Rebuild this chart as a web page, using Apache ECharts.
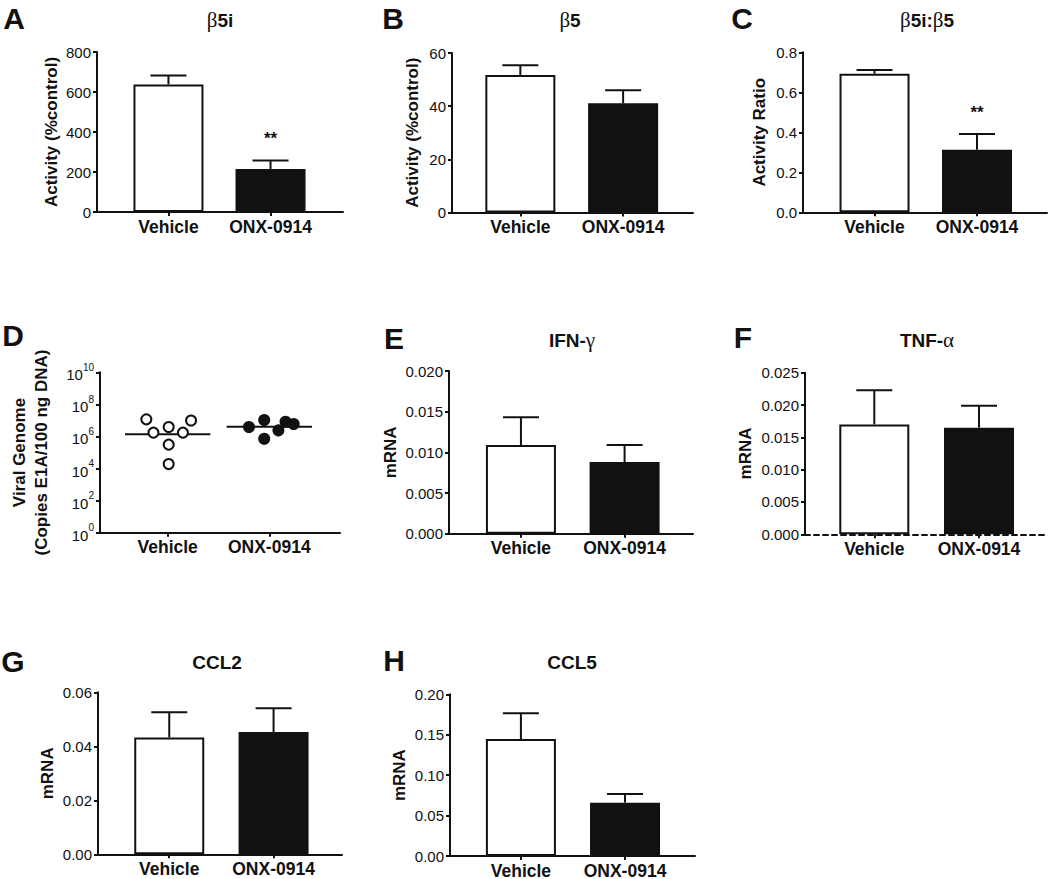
<!DOCTYPE html>
<html><head><meta charset="utf-8">
<script src="https://cdn.jsdelivr.net/npm/echarts@6/dist/echarts.min.js"></script>
<style>html,body{margin:0;padding:0;background:#fff}#c{width:1050px;height:879px}</style>
</head><body><div id="c"></div>
<script>
// ---------------- data ----------------
const categories = ['Vehicle', 'ONX-0914'];

const aMean = [638, 215];      const aSem = [45, 43];        const aSig = ['', '**'];
const bMean = [51.7, 41.1];    const bSem = [3.7, 4.9];      const bSig = ['', ''];
const cMean = [0.693, 0.313];  const cSem = [0.018, 0.078];  const cSig = ['', '**'];
const eMean = [0.0109, 0.0088]; const eSem = [0.0034, 0.0021]; const eSig = ['', ''];
const fMean = [0.0170, 0.0165]; const fSem = [0.0053, 0.0034]; const fSig = ['', ''];
const gMean = [0.0433, 0.0453]; const gSem = [0.0093, 0.0088]; const gSig = ['', ''];
const hMean = [0.1447, 0.0660]; const hSem = [0.0318, 0.0107]; const hSig = ['', ''];

// Panel D: viral genome copies (individual animals) and group geometric means
const dVehicle       = [1.17e7, 1.74e6, 3.9e6, 1.74e6, 9.8e6, 3.1e5, 1.9e4];
const dVehicleJitter = [0.79, 0.86, 1.01, 1.15, 1.23, 1.01, 1.01];
const dOnx           = [3.9e6, 1.07e7, 7.2e5, 2.4e6, 8.3e6, 6.0e6];
const dOnxJitter     = [1.80, 1.95, 1.95, 2.09, 2.16, 2.24];
const dMeans         = [1.35e6, 4.1e6];
const dExponentTicks = [0, 2, 4, 6, 8, 10];

// ---------------- style / layout ----------------
const FONT = '"Liberation Sans", Arial, Helvetica, sans-serif';
const GREEK = '"Liberation Serif", "DejaVu Serif", serif';
const INK = '#111';

// left, top, width, height, xMin, xMax
const layouts = {
  A: [97, 52, 246, 160, 0.30, 2.71],
  B: [452, 53, 241, 159.5, 0.335, 2.68],
  C: [803, 52.3, 244, 160, 0.302, 2.683],
  D: [100, 372.3, 240, 160.4, 0.334, 2.696],
  E: [449, 371, 244, 162.7, 0.306, 2.66],
  F: [805, 372.7, 241, 161.6, 0.338, 2.64],
  G: [98, 692.3, 244, 162, 0.317, 2.656],
  H: [450, 694.3, 245, 161.7, 0.319, 2.672]
};

const panels = [
  {key:'A', title:'{g|β}5i', tx:220, ty:20, lx:14, ly:18, name:'Activity (%control)', gap:34, max:800, interval:200, dec:0, mean:aMean, sem:aSem, sig:aSig},
  {key:'B', title:'{g|β}5', tx:570, ty:20, lx:393, ly:18, name:'Activity (%control)', gap:29, max:60, interval:20, dec:0, mean:bMean, sem:bSem, sig:bSig},
  {key:'C', title:'{g|β}5i:{g|β}5', tx:927, ty:20, lx:742, ly:18, name:'Activity Ratio', gap:33, max:0.8, interval:0.2, dec:1, mean:cMean, sem:cSem, sig:cSig},
  {key:'D', title:'', tx:0, ty:0, lx:13, ly:335, name:'Viral Genome\n(Copies E1A/100 ng DNA)', gap:48, max:10, interval:2, dec:0},
  {key:'E', title:'IFN-{g|γ}', tx:572, ty:340, lx:394, ly:338, name:'mRNA', gap:45, max:0.020, interval:0.005, dec:3, mean:eMean, sem:eSem, sig:eSig},
  {key:'F', title:'TNF-{g|α}', tx:927, ty:340, lx:743, ly:337, name:'mRNA', gap:49, max:0.025, interval:0.005, dec:3, mean:fMean, sem:fSem, sig:fSig, dashedBase:true},
  {key:'G', title:'CCL2', tx:217, ty:662, lx:13, ly:661, name:'mRNA', gap:37, max:0.06, interval:0.02, dec:2, mean:gMean, sem:gSem, sig:gSig},
  {key:'H', title:'CCL5', tx:572, ty:662, lx:394, ly:660, name:'mRNA', gap:37, max:0.20, interval:0.05, dec:2, mean:hMean, sem:hSem, sig:hSig}
];

const grids = [], xAxes = [], yAxes = [], series = [], titles = [];

panels.forEach((p, i) => {
  const L = layouts[p.key];
  grids.push({left:L[0], top:L[1], width:L[2], height:L[3], containLabel:false, outerBoundsMode:'none'});
  xAxes.push({
    gridIndex:i, type:'value', min:L[4], max:L[5], splitLine:{show:false},
    axisLine:{show:true, onZero:false, lineStyle:{color:INK, width:2, type: p.dashedBase ? [5,4] : 'solid'}},
    axisTick:{show:true, length:4, customValues:[1,2], lineStyle:{color:INK, width:2}},
    axisLabel:{show:true, customValues:[1,2], margin:7, fontSize:17.5, lineHeight:15, fontWeight:'bold', fontFamily:FONT, color:INK,
      formatter:(v) => categories[Math.round(v) - 1] || ''}
  });
  const isD = p.key === 'D';
  yAxes.push({
    gridIndex:i, type:'value', min:0, max:p.max, interval:p.interval, splitLine:{show:false},
    axisLine:{show:true, lineStyle:{color:INK, width:2}},
    axisTick:{show:true, length:4, lineStyle:{color:INK, width:2}},
    axisLabel:{margin:6, fontSize:15, fontFamily:FONT, color:INK,
      formatter: isD ? (v) => '{b|10}{s|' + Math.round(v) + '}' : (v) => v.toFixed(p.dec),
      rich: isD ? {b:{fontSize:15, fontFamily:FONT, color:INK, lineHeight:20, verticalAlign:'bottom'},
                   s:{fontSize:10, fontFamily:FONT, color:INK, lineHeight:20, verticalAlign:'top'}} : undefined},
    name:p.name, nameLocation:'middle', nameGap:p.gap, nameRotate:90,
    nameTextStyle:{fontSize:17, fontWeight:'bold', fontFamily:FONT, color:INK, lineHeight:22}
  });

  titles.push({text:p.key, left:p.lx, top:p.ly, padding:0, textAlign:'center', textVerticalAlign:'middle',
    textStyle:{fontSize:30, lineHeight:30, fontWeight:'bold', fontFamily:FONT, color:INK}});
  if (p.title) {
    titles.push({text:p.title, left:p.tx, top:p.ty, padding:0, textAlign:'center', textVerticalAlign:'middle',
      textStyle:{fontSize:19, fontWeight:'bold', fontFamily:FONT, color:INK,
        rich:{g:{fontSize:21, fontWeight:'normal', fontFamily:GREEK, color:INK}}}});
  }

  if (!isD) {
    series.push({
      type:'bar', xAxisIndex:i, yAxisIndex:i, barWidth:70, z:2, silent:true,
      data: p.mean.map((v, k) => ({value:[k + 1, v],
        itemStyle: k === 0 ? {color:'#fff', borderColor:INK, borderWidth:2}
                           : {color:INK, borderColor:INK, borderWidth:2}}))
    });
    const sig = p.sig;
    series.push({
      type:'custom', xAxisIndex:i, yAxisIndex:i, z:3, silent:true,
      data: p.mean.map((v, k) => [k + 1, v, p.sem[k]]),
      encode:{x:0, y:1},
      renderItem:(params, api) => {
        const x = api.value(0), m = api.value(1), s = api.value(2);
        const p0 = api.coord([x, m]), p1 = api.coord([x, m + s]);
        const children = [
          {type:'line', shape:{x1:p0[0], y1:p0[1], x2:p1[0], y2:p1[1]}, style:{stroke:INK, lineWidth:2}},
          {type:'line', shape:{x1:p1[0] - 18, y1:p1[1], x2:p1[0] + 18, y2:p1[1]}, style:{stroke:INK, lineWidth:2}}
        ];
        const t = sig[params.dataIndex];
        if (t) children.push({type:'text', x:p1[0], y:p1[1] - 22,
          style:{text:t, fill:INK, font:'bold 17px ' + FONT, align:'center', verticalAlign:'middle'}});
        return {type:'group', children};
      }
    });
  } else {
    series.push({
      type:'scatter', xAxisIndex:i, yAxisIndex:i, symbol:'circle', symbolSize:10, z:3, silent:true,
      itemStyle:{color:'#fff', borderColor:INK, borderWidth:2, opacity:1},
      data: dVehicle.map((v, k) => [dVehicleJitter[k], Math.log10(v)])
    });
    series.push({
      type:'scatter', xAxisIndex:i, yAxisIndex:i, symbol:'circle', symbolSize:10, z:3, silent:true,
      itemStyle:{color:INK, borderColor:INK, borderWidth:2, opacity:1},
      data: dOnx.map((v, k) => [dOnxJitter[k], Math.log10(v)])
    });
    series.push({
      type:'custom', xAxisIndex:i, yAxisIndex:i, z:2, silent:true,
      data: dMeans.map((v, k) => [k + 1, Math.log10(v)]),
      encode:{x:0, y:1},
      renderItem:(params, api) => {
        const x = api.value(0), y = api.value(1);
        const a = api.coord([x - 0.42, y]), b = api.coord([x + 0.42, y]);
        return {type:'line', shape:{x1:a[0], y1:a[1], x2:b[0], y2:b[1]}, style:{stroke:INK, lineWidth:2}};
      }
    });
  }
});

const chart = echarts.init(document.getElementById('c'), null, {renderer:'svg', width:1050, height:879});
chart.setOption({
  backgroundColor:'#fff',
  animation:false,
  title:titles,
  grid:grids,
  xAxis:xAxes,
  yAxis:yAxes,
  series:series
});
</script>
</body></html>
